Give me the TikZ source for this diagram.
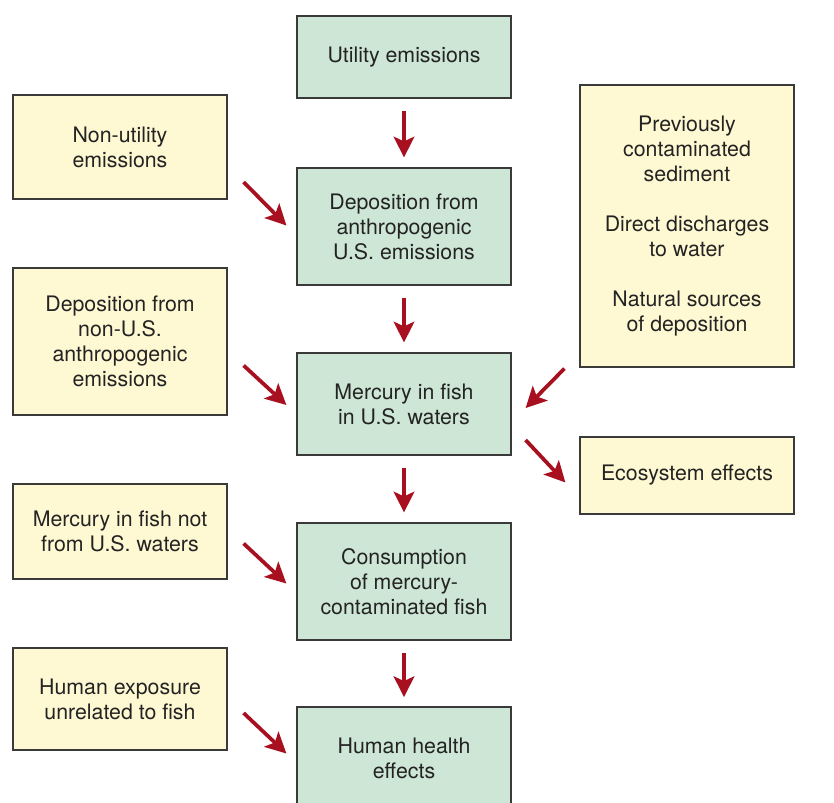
\documentclass[tikz,border=0pt]{standalone}
\usepackage{fontspec}
\setmainfont{TeX Gyre Heros}
\usepackage{tikz}
\usetikzlibrary{arrows.meta,positioning}
\definecolor{boxgreen}{HTML}{CDE6D5}
\definecolor{boxyellow}{HTML}{FEF9D3}
\definecolor{boxline}{HTML}{3A3A3A}
\definecolor{arrowred}{HTML}{A8101F}
\definecolor{textgray}{HTML}{232323}
\tikzset{
    %Define standard arrow tip
    >={Stealth[length=15.5pt,width=15.5pt,inset=3.5pt]},
    %Define style for boxes
    mainbox/.style={
           rectangle,
           draw=boxline, line width=0.9pt,
           fill=boxgreen,
           text=textgray,
           minimum width=160.5pt,
           align=center,
           font=\fontsize{16}{18.8}\selectfont},
    sidebox/.style={
           mainbox,
           fill=boxyellow},
    % Define arrow style
    pil/.style={
           ->,
           draw=arrowred,
           line width=2.8pt}
}
\begin{document}
\begin{tikzpicture}[x=0.75pt,y=-0.75pt]
 \useasboundingbox (0,0) rectangle (834,802);

 % main column
 \node[mainbox, minimum height=61.5pt] (util) at (404,57) {Utility emissions};
 \node[mainbox, minimum height=87.75pt] (dep) at (404,226.5) {Deposition from\\anthropogenic\\U.S. emissions};
 \node[mainbox, minimum height=76.5pt] (merc) at (404,404) {Mercury in fish\\in U.S. waters};
 \node[mainbox, minimum height=87.75pt] (cons) at (404,581.5) {Consumption\\of mercury-\\contaminated fish};
 \node[mainbox, minimum height=77.25pt, text depth=0pt] (health) at (404,758.5) {Human health\\effects};

 % left column
 \node[sidebox, minimum height=78pt] (nonutil) at (120,147) {Non-utility\\emissions};
 \node[sidebox, minimum height=110.25pt] (depnonus) at (120,341.5) {Deposition from\\non-U.S.\\anthropogenic\\emissions};
 \node[sidebox, minimum height=71.25pt] (fishnotus) at (120,531.5) {Mercury in fish not\\from U.S. waters};
 \node[sidebox, minimum height=76.5pt] (exposure) at (120,699) {Human exposure\\unrelated to fish};

 % right column
 \node[sidebox, minimum height=211.5pt] (othersrc) at (687,226) {Previously\\contaminated\\sediment\\[18.8pt]Direct discharges\\to water\\[18.8pt]Natural sources\\of deposition};
 \node[sidebox, minimum height=57.75pt] (eco) at (687,475.5) {Ecosystem effects};

 % arrows down the column
 \draw[pil, shorten <=9.5pt, shorten >=7.5pt] (util.south) -- (dep.north);
 \draw[pil, shorten <=9pt, shorten >=7.5pt] (dep.south) -- (merc.north);
 \draw[pil, shorten <=9pt, shorten >=7.5pt] (merc.south) -- (cons.north);
 \draw[pil, shorten <=9pt, shorten >=7pt] (cons.south) -- (health.north);

 % arrows from the sides
 \draw[pil] ([shift={(16,35)}]nonutil.east) -- ([shift={(-10,-1)}]dep.west);
 \draw[pil] ([shift={(16,24)}]depnonus.east) -- ([shift={(-10,1)}]merc.west);
 \draw[pil] ([shift={(16,12)}]fishnotus.east) -- ([shift={(-10,2)}]cons.west);
 \draw[pil] ([shift={(16,14)}]exposure.east) -- ([shift={(-10,-5)}]health.west);
 \draw[pil] ([shift={(-15,1)}]othersrc.south west) -- ([shift={(14,4)}]merc.east);
 \draw[pil] ([shift={(14,36)}]merc.east) -- ([shift={(-14,7)}]eco.west);
\end{tikzpicture}
\end{document}
